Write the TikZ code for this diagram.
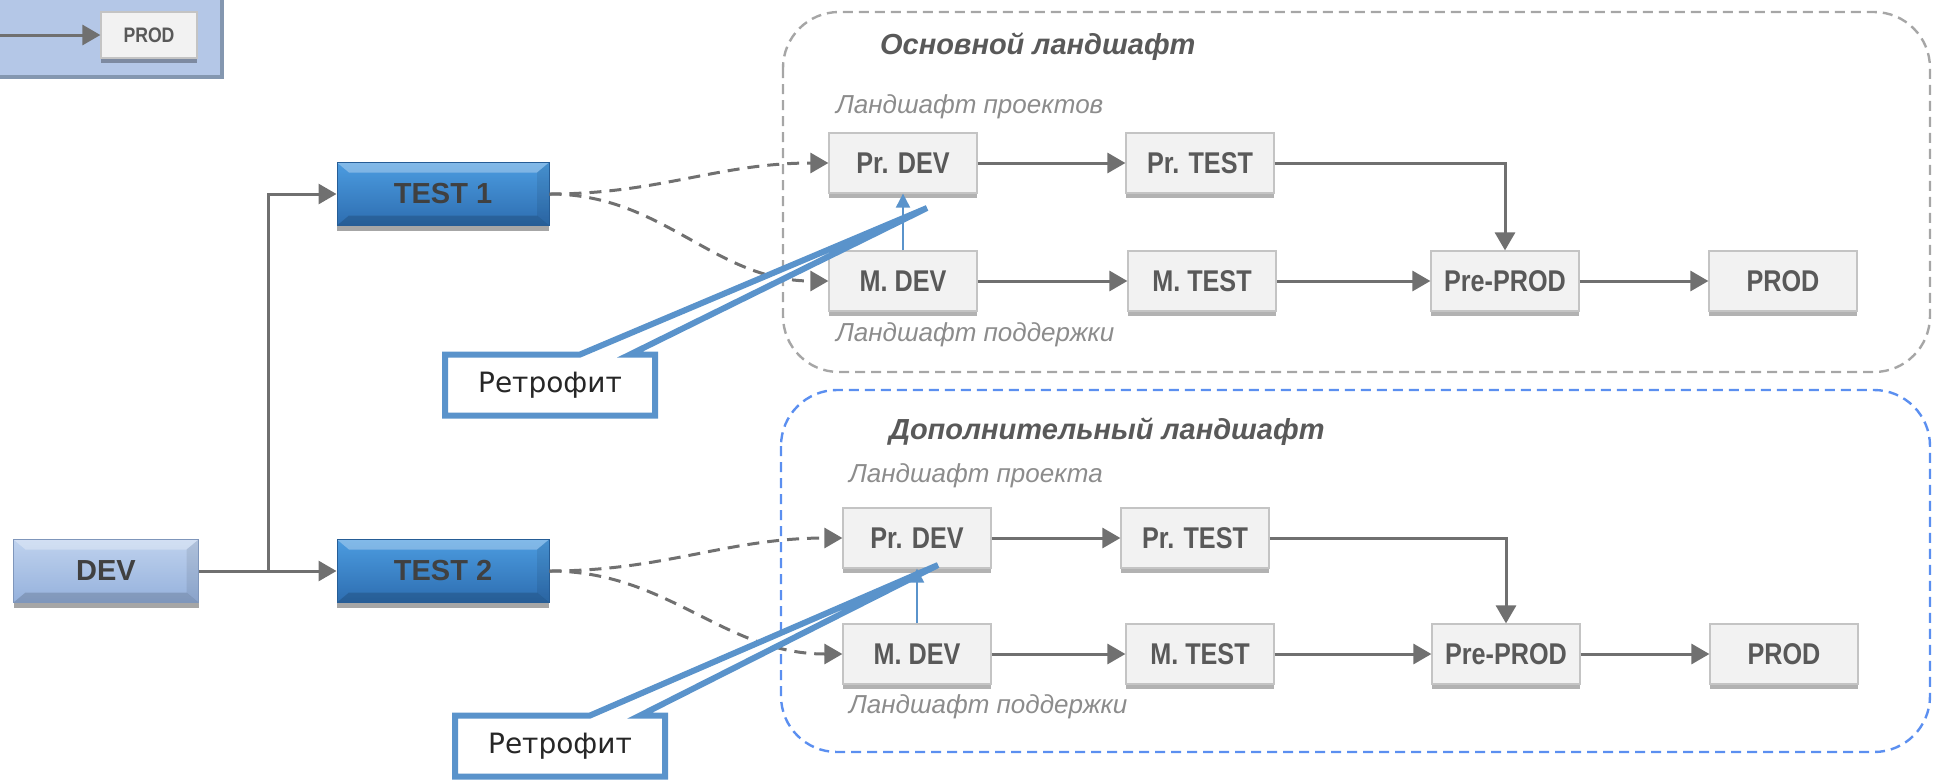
\documentclass[tikz,border=0pt]{standalone}
\usepackage{fontspec}
\setmainfont{Liberation Sans}
\newfontfamily\narrowfont[FakeStretch=0.84]{Liberation Sans}
\newfontfamily\retrofont{DejaVu Sans}
\usetikzlibrary{arrows.meta,shapes.callouts,shadows}
\definecolor{boxgray}{HTML}{F2F2F2}
\definecolor{boxline}{HTML}{C4C4C4}
\definecolor{labelgray}{HTML}{595959}
\definecolor{darklabel}{HTML}{404040}
\definecolor{flowgray}{HTML}{707070}
\definecolor{notegray}{HTML}{8C8C8C}
\definecolor{retroblue}{HTML}{5A93CB}
\definecolor{landblue}{HTML}{5B8FF0}
\definecolor{landgray}{HTML}{A6A6A6}
\definecolor{legendfill}{HTML}{B4C7E7}
\definecolor{legendline}{HTML}{8497B0}
\definecolor{devtop}{HTML}{BFD2EE}
\definecolor{devbottom}{HTML}{95B1DC}
\definecolor{testtop}{HTML}{4C9CE0}
\definecolor{testbottom}{HTML}{2D6DB0}
\tikzset{
  stage/.style={draw=boxline, fill=boxgray, line width=0.6pt, inner sep=0pt,
    minimum width=74pt, minimum height=30pt, text=labelgray,
    font=\narrowfont\bfseries\fontsize{15}{15}\selectfont,
    drop shadow={shadow xshift=0pt, shadow yshift=-2.5pt, opacity=.3, fill=black}},
  bevel/.style={path picture={
    \fill[white, opacity=.3] (path picture bounding box.north west) -- (path picture bounding box.north east)
      -- ([xshift=-6pt,yshift=-5pt]path picture bounding box.north east) -- ([xshift=6pt,yshift=-5pt]path picture bounding box.north west) -- cycle;
    \fill[black, opacity=.15] (path picture bounding box.south west) -- (path picture bounding box.south east)
      -- ([xshift=-6pt,yshift=5pt]path picture bounding box.south east) -- ([xshift=6pt,yshift=5pt]path picture bounding box.south west) -- cycle;
    \fill[black, opacity=.08] (path picture bounding box.north east) -- (path picture bounding box.south east)
      -- ([xshift=-6pt,yshift=5pt]path picture bounding box.south east) -- ([xshift=-6pt,yshift=-5pt]path picture bounding box.north east) -- cycle;}},
  devbox/.style={bevel, top color=#1top, bottom color=#1bottom, draw=#1bottom!85!black, line width=0.5pt,
    inner sep=0pt, minimum height=31.5pt, text=darklabel, font=\bfseries\fontsize{14.5}{14.5}\selectfont,
    drop shadow={shadow xshift=0pt, shadow yshift=-2.5pt, opacity=.35, fill=black}},
  flow/.style={draw=flowgray, line width=1.5pt, -{Triangle[length=9pt,width=10pt]}},
  link/.style={draw=flowgray, line width=1.5pt, dash pattern=on 6pt off 4pt, -{Triangle[length=9pt,width=10pt]}},
  retroup/.style={draw=retroblue, line width=1pt, -{Triangle[length=7pt,width=7pt]}},
  retro/.style={rectangle callout, draw=retroblue, line width=3pt, fill=white, inner sep=0pt,
    minimum width=105pt, minimum height=30.5pt, callout pointer width=25pt, text=black!85,
    font=\retrofont\fontsize{14}{14}\selectfont},
  landtitle/.style={anchor=west, text=labelgray, font=\bfseries\itshape\fontsize{14.5}{14.5}\selectfont},
  landnote/.style={anchor=west, text=notegray, font=\itshape\fontsize{13}{13}\selectfont}
}
\begin{document}
\begin{tikzpicture}[x=0.5pt, y=-0.5pt]
\useasboundingbox (0,0) rectangle (1934,783);

\draw[fill=legendfill, draw=legendline, line width=2pt] (-10,-10) rectangle (222,77);
\node[stage, minimum width=48pt, minimum height=23pt, font=\narrowfont\bfseries\fontsize{10.5}{10.5}\selectfont] (prodL) at (149,35) {PROD};
\coordinate (legin) at (-5,35);
\draw[flow] (legin) -- (prodL.west);

\draw[landgray, line width=1.2pt, dash pattern=on 5pt off 3pt, rounded corners=28pt] (783,12) rectangle (1930,372);
\draw[landblue, line width=1.2pt, dash pattern=on 5pt off 3pt, rounded corners=28pt] (781,390) rectangle (1930,752);

\node[landtitle] (titleA) at (873,47) {Основной ландшафт};
\node[landnote] (projA) at (829,107) {Ландшафт проектов};
\node[landnote] (suppA) at (829,335) {Ландшафт поддержки};
\node[landtitle] (titleB) at (882,432) {Дополнительный ландшафт};
\node[landnote] (projB) at (842,476) {Ландшафт проекта};
\node[landnote] (suppB) at (842,707) {Ландшафт поддержки};

\node[devbox=dev, minimum width=92.5pt] (dev) at (106,571) {DEV};
\node[devbox=test, minimum width=106pt] (test1) at (443,194) {TEST 1};
\node[devbox=test, minimum width=106pt] (test2) at (443,571) {TEST 2};

\node[stage] (prdevA) at (903,163) {Pr. DEV};
\node[stage] (prtestA) at (1200,163) {Pr. TEST};
\node[stage] (mdevA) at (903,281) {M. DEV};
\node[stage] (mtestA) at (1202,281) {M. TEST};
\node[stage] (preprodA) at (1505,281) {Pre-PROD};
\node[stage] (prodA) at (1783,281) {PROD};

\node[stage] (prdevB) at (917,538) {Pr. DEV};
\node[stage] (prtestB) at (1195,538) {Pr. TEST};
\node[stage] (mdevB) at (917,654) {M. DEV};
\node[stage] (mtestB) at (1200,654) {M. TEST};
\node[stage] (preprodB) at (1506,654) {Pre-PROD};
\node[stage] (prodB) at (1784,654) {PROD};

\coordinate (fork) at (268,571);
\draw[flow] (dev.east) -- (test2.west);
\draw[flow] (dev.east) -- (fork) |- (test1.west);

\draw[link] (test1.east) to[out=0,in=180] (prdevA.west);
\draw[link] (test1.east) to[out=0,in=180] (mdevA.west);
\draw[link] (test2.east) to[out=0,in=180] (prdevB.west);
\draw[link] (test2.east) to[out=0,in=180] (mdevB.west);

\draw[flow] (prdevA) -- (prtestA);
\draw[flow] (mdevA) -- (mtestA);
\draw[flow] (mtestA) -- (preprodA);
\draw[flow] (preprodA) -- (prodA);
\draw[flow] (prtestA.east) -| (preprodA.north);
\draw[flow] (prdevB) -- (prtestB);
\draw[flow] (mdevB) -- (mtestB);
\draw[flow] (mtestB) -- (preprodB);
\draw[flow] (preprodB) -- (prodB);
\draw[flow] (prtestB.east) -| (preprodB.north);

\draw[retroup] (mdevA.north) -- (prdevA.south);
\draw[retroup] (mdevB.north) -- (prdevB.south);

\coordinate (tipA) at (927,208);
\coordinate (tipB) at (938,565);
\node[retro, callout absolute pointer={(tipA)}] (retroA) at (550,385) {Ретрофит};
\node[retro, callout absolute pointer={(tipB)}] (retroB) at (560,746) {Ретрофит};
\end{tikzpicture}
\end{document}
